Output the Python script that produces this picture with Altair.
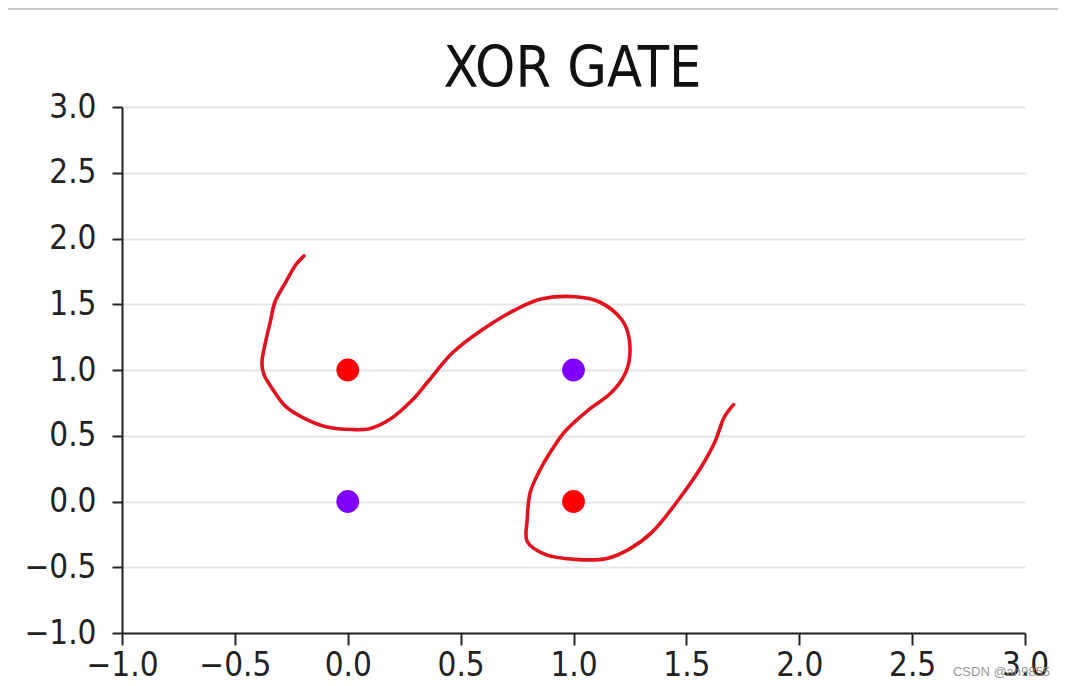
import altair as alt
import pandas as pd

# XOR points
pt_x = [0, 0, 1, 1]
pt_y = [0, 1, 0, 1]
pt_cls = ["0", "1", "1", "0"]

# Hand-drawn red decision curve
curve_x = [-0.194, -0.230, -0.274, -0.322, -0.344, -0.362, -0.380, -0.371, -0.331, -0.274,
           -0.199, -0.097, 0.022, 0.097, 0.185, 0.287, 0.362, 0.464, 0.596, 0.759,
           0.861, 1.007, 1.113, 1.214, 1.245, 1.245, 1.214, 1.157, 1.068, 0.962,
           0.905, 0.848, 0.808, 0.795, 0.795, 0.874, 1.007, 1.148, 1.245, 1.347,
           1.466, 1.567, 1.625, 1.669, 1.709]
curve_y = [1.868, 1.800, 1.670, 1.519, 1.359, 1.230, 1.055, 0.964, 0.850, 0.721,
           0.638, 0.569, 0.547, 0.554, 0.623, 0.774, 0.926, 1.131, 1.306, 1.473,
           1.541, 1.557, 1.519, 1.382, 1.253, 1.055, 0.926, 0.812, 0.699, 0.532,
           0.395, 0.228, 0.068, -0.137, -0.304, -0.402, -0.440, -0.433, -0.364, -0.235,
           0.015, 0.266, 0.448, 0.645, 0.737]

tick_values = [-1.0, -0.5, 0.0, 0.5, 1.0, 1.5, 2.0, 2.5, 3.0]

title_text = "XOR GATE"
watermark = "CSDN @an9855"

FONT = "DejaVu Sans Condensed, DejaVu Sans"
INK = "#222222"

pts = pd.DataFrame({"x": pt_x, "y": pt_y, "cls": pt_cls})
curve = pd.DataFrame({"x": curve_x, "y": curve_y, "i": list(range(len(curve_x)))})
one = pd.DataFrame({"a": [0]})

xscale = alt.Scale(domain=[-1, 3], nice=False, zero=False)
yscale = alt.Scale(domain=[-1, 3], nice=False, zero=False)

xaxis = alt.Axis(values=tick_values, format=".1f", title=None, grid=False,
                 labelFont=FONT, labelFontSize=33, labelColor=INK,
                 tickColor=INK, tickSize=12, tickWidth=2,
                 domainColor=INK, domainWidth=2, labelPadding=4, labelFlush=False)
yaxis = alt.Axis(values=tick_values, format=".1f", title=None, grid=True,
                 gridColor="#e6e6e6", gridWidth=2,
                 labelFont=FONT, labelFontSize=33, labelColor=INK,
                 tickColor=INK, tickSize=10, tickWidth=2,
                 domainColor=INK, domainWidth=2, labelPadding=16, labelFlush=False)

points = alt.Chart(pts).mark_circle(size=520, opacity=1).encode(
    x=alt.X("x:Q", scale=xscale, axis=xaxis),
    y=alt.Y("y:Q", scale=yscale, axis=yaxis),
    color=alt.Color("cls:N", scale=alt.Scale(domain=["0", "1"], range=["#8000ff", "#ff0000"]), legend=None),
)

line = alt.Chart(curve).mark_line(color="#e3121f", strokeWidth=3.6, strokeCap="round",
                                  strokeJoin="round", interpolate="catmull-rom").encode(
    x=alt.X("x:Q", scale=xscale, axis=xaxis),
    y=alt.Y("y:Q", scale=yscale, axis=yaxis),
    order="i:Q",
)

title = alt.Chart(one).mark_text(text=title_text, font=FONT, fontSize=57, color="#111111",
                                 align="center", baseline="alphabetic").encode(
    x=alt.value(450.5), y=alt.value(-20))

wm = alt.Chart(one).mark_text(text=watermark, font="Liberation Sans", fontSize=13,
                              color="#8a8a8a", opacity=0.9, align="right", baseline="middle").encode(
    x=alt.value(928), y=alt.value(565))

topline = alt.Chart(one).mark_rule(color="#c8c8c8", strokeWidth=2).encode(
    x=alt.value(-114), x2=alt.value(936), y=alt.value(-98))

chart = alt.layer(points, line, title, wm, topline).properties(
    width=903, height=526, autosize="none",
    padding={"left": 114, "top": 99, "right": 33, "bottom": 45},
).configure(background="white").configure_view(stroke="transparent", strokeWidth=0).configure_axisX(grid=False)

chart.save("out.html", embed_options={"renderer": "svg", "actions": False})
